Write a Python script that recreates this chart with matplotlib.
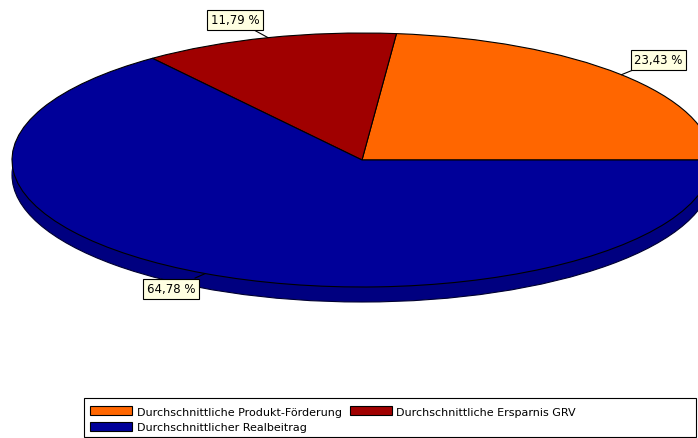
import matplotlib
matplotlib.use("Agg")
import matplotlib.pyplot as plt
import numpy as np
from matplotlib.patches import Ellipse, Rectangle

# shares of the average contribution
labels = ["Durchschnittliche Produkt-Förderung",
          "Durchschnittliche Ersparnis GRV",
          "Durchschnittlicher Realbeitrag"]
values = [23.43, 11.79, 64.78]
colors = ["#FF6600", "#A00000", "#000099"]
side_color = "#000080"

# pie geometry in pixels (ellipse centre, radii, thickness)
W, H = 698, 439
cx, cy, rx, ry, depth = 362, 161, 350, 127, 15

fig = plt.figure(figsize=(W / 100, H / 100), dpi=100)
fig.patch.set_facecolor("white")
ax = fig.add_axes([0, 0, 1, 1])

d = depth / ry
# side of the disc: lower ellipse + band between the two faces
ax.add_patch(Ellipse((0, -d), 2, 2, facecolor=side_color,
                     edgecolor="#000030", linewidth=0.8, zorder=1))
ax.fill_between([-1, 1], -d, 0, color=side_color, linewidth=0, zorder=1)

wedges, _ = ax.pie(values, colors=colors, startangle=0, counterclock=True,
                   wedgeprops=dict(edgecolor="black", linewidth=0.8, zorder=2))

ax.set_aspect("auto")
ax.set_xlim(-cx / rx, (W - cx) / rx)
ax.set_ylim((cy - H) / ry, cy / ry)
ax.axis("off")

# percentage callouts, leader line from the middle of each slice
offsets = [(37, 15), (-33, 18), (-34, -15)]
start = 0.0
for v, off in zip(values, offsets):
    mid = np.deg2rad(start + v * 3.6 / 2)
    start += v * 3.6
    txt = f"{v:.2f} %".replace(".", ",")
    ax.annotate(txt, xy=(np.cos(mid), np.sin(mid)), xytext=off,
                textcoords="offset pixels", ha="center", va="center",
                fontsize=8.5, family="DejaVu Sans", zorder=5,
                bbox=dict(boxstyle="square,pad=0.3", fc="#FFFFE1",
                          ec="black", lw=0.8),
                arrowprops=dict(arrowstyle="-", color="black", lw=0.8,
                                shrinkA=0, shrinkB=0))

# legend, filled row by row
order = [0, 2, 1]
leg = fig.legend([wedges[i] for i in order], [labels[i] for i in order],
                 ncol=2, loc="upper left",
                 bbox_to_anchor=(88 / W, 1 - 405 / H),
                 frameon=False, fontsize=8, handlelength=3.8,
                 handleheight=0.9, handletextpad=0.4, columnspacing=0.7,
                 labelspacing=0.45, borderpad=0.2, borderaxespad=0)
for t in leg.get_texts():
    t.set_family("DejaVu Sans")
fig.patches.append(Rectangle((84 / W, 1 - 438 / H), 612 / W, 39 / H,
                             transform=fig.transFigure, fill=False,
                             edgecolor="black", linewidth=0.8))

fig.savefig("out.png", dpi=100, facecolor="white")
